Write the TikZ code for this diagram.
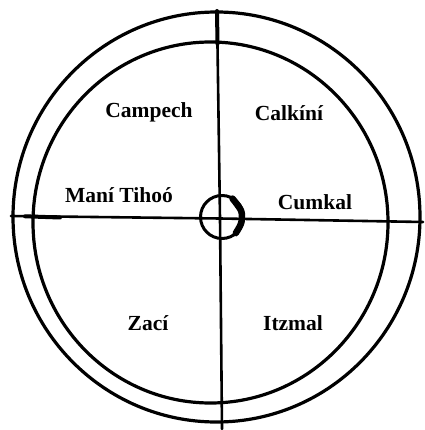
\documentclass[tikz,border=0pt]{standalone}
\usepackage{fontspec}
\setmainfont{Liberation Serif}
\begin{document}
\begin{tikzpicture}[x=1pt,y=-1pt, line join=round, line cap=round,
  ring/.style={line width=3.2pt},
  axisline/.style={line width=2.6pt},
  place/.style={font=\fontsize{21.5}{24}\selectfont\bfseries, inner sep=0pt}]
\useasboundingbox (0,0) rectangle (424,430);
% rings
\draw[ring] (216.5,217) ellipse [x radius=203.5pt, y radius=205pt];
\draw[ring] (210.5,222.5) ellipse [x radius=177.5pt, y radius=180.5pt];
% axes
\coordinate (N) at (217,11);
\coordinate (Ni) at (217.5,44);
\coordinate (S) at (222,429);
\coordinate (W) at (11,216);
\coordinate (Wi) at (60,217.5);
\coordinate (E) at (423,222);
\coordinate (C) at (220,218.5);
\draw[axisline] (N) -- (C) -- (S);
\draw[axisline] (W) -- (C) -- (E);
\draw[line width=4pt] (N) -- (Ni);
\draw[line width=4pt] (25,216.3) -- (Wi);
% hub
\node[circle, draw, line width=3pt, minimum size=43pt, inner sep=0pt] (hub) at (222,217) {};
\draw[line width=6.5pt] plot[smooth] coordinates {([shift={(-1pt,-1.5pt)}]hub.60) ([shift={(-3pt,0pt)}]hub.15) ([shift={(-3pt,0pt)}]hub.-15) ([shift={(-1pt,1.5pt)}]hub.-50)};
% labels
\node[place] (campech) at (149,112) {Campech};
\node[place] (calkini) at (289,113) {Calkíní};
\node[place] (mani) at (119,195) {Maní Tihoó};
\node[place] (cumkal) at (315,202) {Cumkal};
\node[place] (zaci) at (148,323) {Zací};
\node[place] (itzmal) at (293,323) {Itzmal};
\end{tikzpicture}
\end{document}
